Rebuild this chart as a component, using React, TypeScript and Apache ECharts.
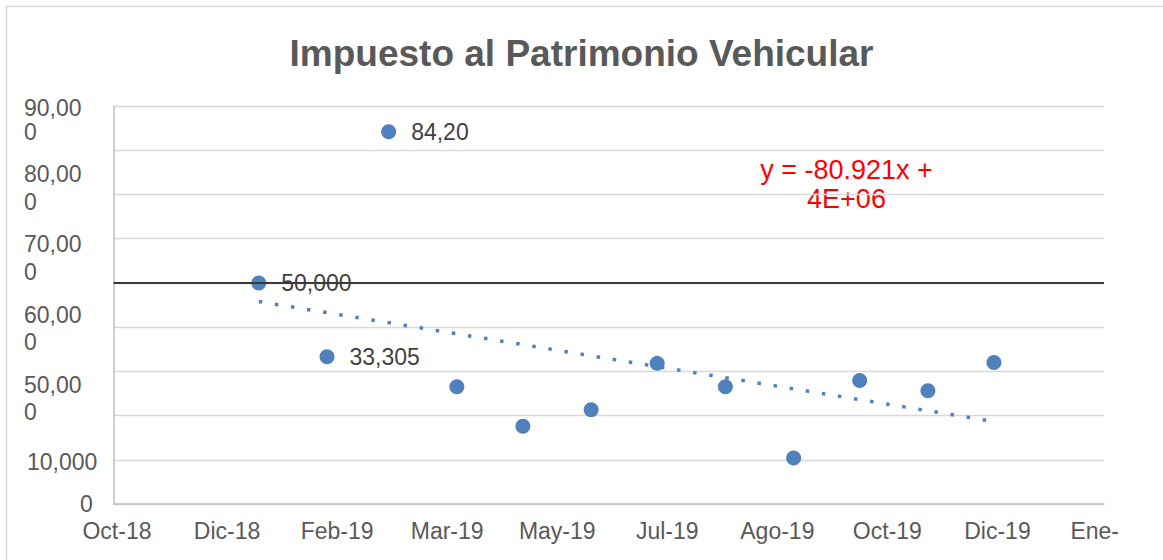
import React, { useEffect, useRef } from 'react';
import * as echarts from 'echarts';

const FONT = '"Liberation Sans", Arial, sans-serif';

// Data (monthly amounts, 2019)
const months = ['2019-01-01', '2019-02-01', '2019-03-01', '2019-04-01', '2019-05-01', '2019-06-01',
  '2019-07-01', '2019-08-01', '2019-09-01', '2019-10-01', '2019-11-01', '2019-12-01'];
const amounts = [50000, 33305, 84200, 26500, 17600, 21300, 31800, 26500, 10400, 27900, 25600, 32000];
const pointLabels = ['50,000', '33,305', '84,20', '', '', '', '', '', '', '', '', ''];

// Axis ticks (Excel date serials)
const xMin = 43400;
const xMax = 43850;
const xStep = 50;
const xTickLabels = ['Oct-18', 'Dic-18', 'Feb-19', 'Mar-19', 'May-19', 'Jul-19', 'Ago-19', 'Oct-19', 'Dic-19', 'Ene-20'];
const yMin = 0;
const yMax = 90000;
const yStep = 10000;
const yLabelLines = ['90,00', '0', '80,00', '0', '70,00', '0', '60,00', '0', '50,00', '0', '10,000', '0'];
const referenceLevel = 50000;

const titleText = 'Impuesto al Patrimonio Vehicular';
const trendEquation = 'y = -80.921x +\n4E+06';

// Layout only
const yLabelPos: [number, number][] = [
  [24, 108], [24, 131.5], [24, 173.5], [24, 201.5], [24, 244], [24, 271.5],
  [24, 315], [24, 341.5], [24, 385], [24, 411.5], [27, 461.5], [80, 503.5],
];

function toSerial(s: string): number {
  const [y, m, d] = s.split('-').map(Number);
  return Math.round((Date.UTC(y, m - 1, d) - Date.UTC(1899, 11, 30)) / 86400000);
}

function linearFit(xs: number[], ys: number[]) {
  const n = xs.length;
  const mx = xs.reduce((a, b) => a + b, 0) / n;
  const my = ys.reduce((a, b) => a + b, 0) / n;
  let sxy = 0;
  let sxx = 0;
  for (let i = 0; i < n; i++) {
    sxy += (xs[i] - mx) * (ys[i] - my);
    sxx += (xs[i] - mx) * (xs[i] - mx);
  }
  const slope = sxy / sxx;
  return { slope, intercept: my - slope * mx };
}

export default function App() {
  const ref = useRef<HTMLDivElement>(null);

  useEffect(() => {
    if (!ref.current) return;
    const chart = echarts.init(ref.current, null, { renderer: 'svg' });
    const xs = months.map(toSerial);
    const fit = linearFit(xs, amounts);
    const x0 = xs[0];
    const x1 = xs[xs.length - 1];
    const trend = [
      [x0, fit.slope * x0 + fit.intercept],
      [x1, fit.slope * x1 + fit.intercept],
    ];

    const graphics: any[] = [
      {
        type: 'rect',
        shape: { x: 6.5, y: 6.5, width: 1300, height: 700 },
        style: { fill: 'none', stroke: '#d9d9d9', lineWidth: 1.5 },
        silent: true,
      },
      {
        type: 'text',
        style: {
          text: trendEquation,
          x: 846.5,
          y: 184,
          fill: '#ff0000',
          fontSize: 27,
          fontFamily: FONT,
          align: 'center',
          verticalAlign: 'middle',
          lineHeight: 29,
        },
        silent: true,
      },
    ];
    yLabelLines.forEach((t, i) => {
      graphics.push({
        type: 'text',
        style: {
          text: t,
          x: yLabelPos[i][0],
          y: yLabelPos[i][1],
          fill: '#595959',
          fontSize: 23,
          fontFamily: FONT,
          align: 'left',
          verticalAlign: 'middle',
        },
        silent: true,
      });
    });

    chart.setOption({
      animation: false,
      backgroundColor: '#ffffff',
      title: {
        text: titleText,
        left: 'center',
        top: 30,
        textStyle: { fontFamily: FONT, fontSize: 37, fontWeight: 'bold', color: '#595959' },
      },
      grid: { left: 113.5, top: 106, width: 990.5, height: 398, containLabel: false },
      xAxis: {
        type: 'value',
        min: xMin,
        max: xMax,
        interval: xStep,
        axisLine: { show: true, lineStyle: { color: '#bfbfbf', width: 1.5 } },
        axisTick: { show: false },
        splitLine: { show: false },
        axisLabel: {
          margin: 15,
          fontFamily: FONT,
          fontSize: 23,
          color: '#595959',
          padding: [0, 0, 0, 7],
          formatter: (v: number) => {
            const idx = Math.round((v - xMin) / xStep);
            const lbl = xTickLabels[idx] ?? '';
            if (idx === xTickLabels.length - 1) {
              const cut = lbl.indexOf('-') + 1;
              return `{a|${lbl.slice(0, cut)}}{h|${lbl.slice(cut)}}`;
            }
            return lbl;
          },
          rich: {
            a: { fontFamily: FONT, fontSize: 23, color: '#595959' },
            h: { fontFamily: FONT, fontSize: 23, color: 'rgba(0,0,0,0)' },
          },
        },
      },
      yAxis: {
        type: 'value',
        min: yMin,
        max: yMax,
        interval: yStep,
        axisLine: { show: true, lineStyle: { color: '#bfbfbf', width: 1.5 } },
        axisTick: { show: false },
        axisLabel: { show: false },
        splitLine: { show: true, lineStyle: { color: '#d9d9d9', width: 1.3 } },
      },
      graphic: graphics,
      series: [
        {
          type: 'line',
          data: trend,
          showSymbol: false,
          symbol: 'none',
          silent: true,
          z: 2,
          lineStyle: { color: '#4f81bd', width: 3.5, type: [3.5, 12.8], cap: 'butt' },
        },
        {
          type: 'scatter',
          data: xs.map((x, i) => [x, amounts[i]]),
          symbolSize: 15,
          z: 3,
          itemStyle: { color: '#4f81bd', opacity: 1 },
          label: {
            show: true,
            position: 'right',
            distance: 15,
            fontFamily: FONT,
            fontSize: 23,
            color: '#404040',
            formatter: (p: any) => pointLabels[p.dataIndex],
          },
          markLine: {
            silent: true,
            symbol: ['none', 'none'],
            label: { show: false },
            lineStyle: { color: '#3a3a3a', width: 2, type: 'solid' },
            data: [{ yAxis: referenceLevel }],
          },
        },
      ],
    });

    return () => chart.dispose();
  }, []);

  return (
    <div
      ref={ref}
      style={{ position: 'fixed', left: 0, top: 0, width: 1163, height: 560, background: '#fff' }}
    />
  );
}
